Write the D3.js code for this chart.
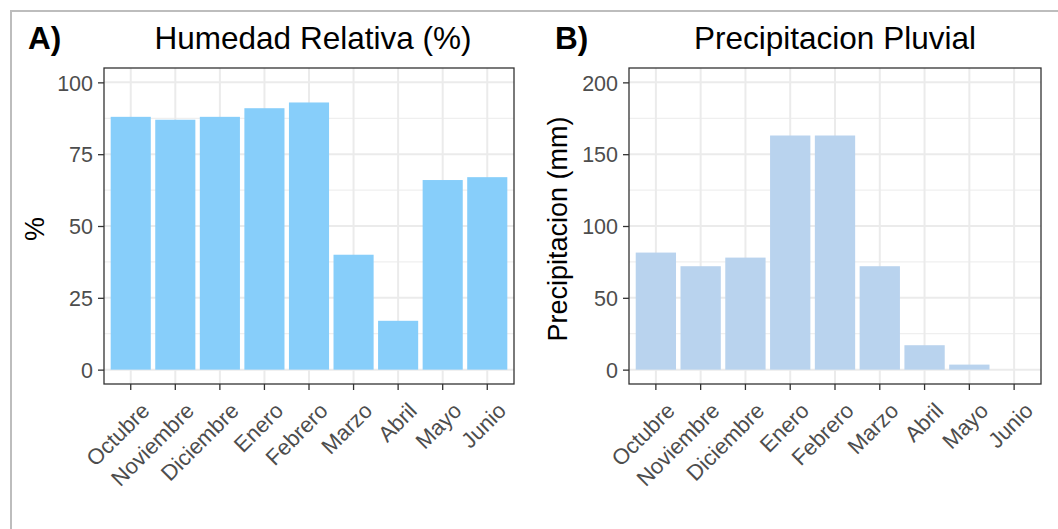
<!DOCTYPE html>
<html>
<head>
<meta charset="utf-8">
<script src="https://cdn.jsdelivr.net/npm/d3@7"></script>
<style>
  body { margin: 0; background: #fff; }
  svg { font-family: "Liberation Sans", Arial, sans-serif; }
</style>
</head>
<body>
<script>
var width = 1058,
    height = 529;

var meses = ["Octubre", "Noviembre", "Diciembre", "Enero", "Febrero", "Marzo", "Abril", "Mayo", "Junio"];
var humedad = [88, 87, 88, 91, 93, 40, 17, 66, 67];
var precipitacion = [81.5, 72, 78, 163, 163, 72, 17, 3.5, 0];
var humedadTicks = [0, 25, 50, 75, 100];
var precipTicks = [0, 50, 100, 150, 200];

var svg = d3.select("body").append("svg")
            .attr("width", width)
            .attr("height", height);

// outer grey frame (only top and left visible)
svg.append("path")
   .attr("d", "M11," + height + "V11H" + width)
   .attr("fill", "none")
   .attr("stroke", "#bdbdbd")
   .attr("stroke-width", 2);

function panel(opts) {
  var g = svg.append("g");
  var x0 = opts.left, x1 = opts.right, y0 = 68, y1 = 384;

  var x = d3.scaleBand()
            .domain(meses)
            .range([x0, x1])
            .paddingInner(0.1)
            .paddingOuter(0.15);

  var y = d3.scaleLinear()
            .domain(opts.domain)
            .range([y1, y0]);

  // minor grid
  var minor = d3.range(opts.ticks.length - 1).map(function(i) {
    return (opts.ticks[i] + opts.ticks[i + 1]) / 2;
  });
  g.selectAll(".minor")
    .data(minor)
    .enter().append("line")
    .attr("x1", x0).attr("x2", x1)
    .attr("y1", function(d) { return y(d); })
    .attr("y2", function(d) { return y(d); })
    .attr("stroke", "#ebebeb")
    .attr("stroke-width", 1);

  // major grid
  g.selectAll(".hmajor")
    .data(opts.ticks)
    .enter().append("line")
    .attr("x1", x0).attr("x2", x1)
    .attr("y1", function(d) { return y(d); })
    .attr("y2", function(d) { return y(d); })
    .attr("stroke", "#ebebeb")
    .attr("stroke-width", 2);

  g.selectAll(".vmajor")
    .data(meses)
    .enter().append("line")
    .attr("y1", y0).attr("y2", y1)
    .attr("x1", function(d) { return x(d) + x.bandwidth() / 2; })
    .attr("x2", function(d) { return x(d) + x.bandwidth() / 2; })
    .attr("stroke", "#ebebeb")
    .attr("stroke-width", 2);

  // bars
  g.selectAll(".bar")
    .data(opts.values)
    .enter().append("rect")
    .attr("x", function(d, i) { return x(meses[i]); })
    .attr("width", x.bandwidth())
    .attr("y", function(d) { return y(d); })
    .attr("height", function(d) { return y(0) - y(d); })
    .attr("fill", opts.color);

  // border
  g.append("rect")
    .attr("x", x0).attr("y", y0)
    .attr("width", x1 - x0).attr("height", y1 - y0)
    .attr("fill", "none")
    .attr("stroke", "#333333")
    .attr("stroke-width", 1.3);

  // y axis
  var yAxis = g.append("g")
    .attr("transform", "translate(" + x0 + ",0)")
    .call(d3.axisLeft(y).tickValues(opts.ticks).tickSize(6).tickPadding(5));
  yAxis.select(".domain").remove();
  yAxis.selectAll(".tick line").attr("stroke", "#333333").attr("stroke-width", 1.3);
  yAxis.selectAll(".tick text")
    .attr("fill", "#4d4d4d")
    .style("font-size", "21.5px")
    .attr("dy", "0.36em");

  // x axis
  var xAxis = g.append("g")
    .attr("transform", "translate(0," + y1 + ")")
    .call(d3.axisBottom(x).tickSize(6));
  xAxis.select(".domain").remove();
  xAxis.selectAll(".tick line").attr("stroke", "#333333").attr("stroke-width", 1.3);
  xAxis.selectAll(".tick text")
    .attr("fill", "#4d4d4d")
    .style("font-size", "22px")
    .attr("text-anchor", "end")
    .attr("x", 0).attr("y", 0)
    .attr("dy", "0.72em")
    .attr("transform", "translate(9,17) rotate(-45)");

  // titles
  svg.append("text")
     .attr("x", opts.tagX).attr("y", 48.5)
     .attr("font-weight", "bold")
     .style("font-size", "31.5px")
     .text(opts.tag);

  svg.append("text")
     .attr("x", (x0 + x1) / 2 + opts.titleShift).attr("y", 48.5)
     .attr("text-anchor", "middle")
     .style("font-size", "31.5px")
     .text(opts.title);

  svg.append("text")
     .attr("transform", "translate(" + opts.labelX + "," + ((y0 + y1) / 2 + 3) + ") rotate(-90)")
     .attr("text-anchor", "middle")
     .style("font-size", "27px")
     .text(opts.ylabel);
}

panel({
  left: 104, right: 514,
  values: humedad, ticks: humedadTicks, domain: [-5, 105],
  color: "#87cefa",
  tag: "A)", tagX: 28, titleShift: 4,
  title: "Humedad Relativa (%)",
  ylabel: "%", labelX: 44
});

panel({
  left: 629, right: 1041,
  values: precipitacion, ticks: precipTicks, domain: [-10, 210],
  color: "#b9d3ee",
  tag: "B)", tagX: 555, titleShift: 0,
  title: "Precipitacion Pluvial",
  ylabel: "Precipitacion (mm)", labelX: 567
});
</script>
</body>
</html>
